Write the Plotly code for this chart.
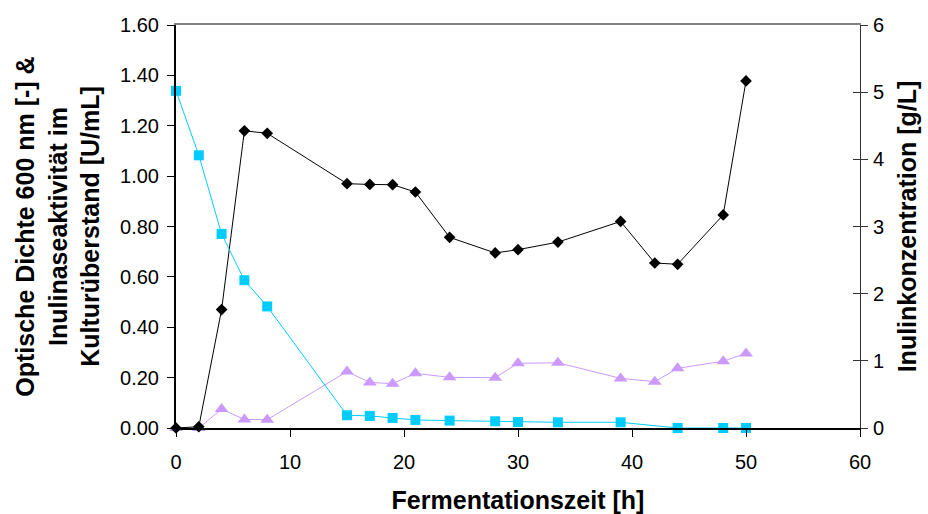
import plotly.graph_objects as go

# Fermentation time [h]
zeit_od = [0, 2, 4, 6, 8, 15, 17, 19, 21, 24, 28, 30, 33.5, 39, 42, 44, 48, 50]
# Optische Dichte 600 nm [-]
od600 = [0.00, 0.005, 0.47, 1.18, 1.17, 0.97, 0.967, 0.966, 0.937, 0.757, 0.695, 0.708,
         0.738, 0.820, 0.655, 0.650, 0.846, 1.378]

# Inulinaseaktivität [U/mL]
zeit_akt = [0, 2, 4, 6, 8, 15, 17, 19, 21, 24, 28, 30, 33.5, 39, 42, 44, 48, 50]
aktivitaet = [0.00, 0.00, 0.075, 0.034, 0.033, 0.224, 0.181, 0.176, 0.217, 0.201, 0.200,
              0.257, 0.259, 0.197, 0.184, 0.237, 0.265, 0.296]

# Inulinkonzentration [g/L]
zeit_inu = [0, 2, 4, 6, 8, 15, 17, 19, 21, 24, 28, 30, 33.5, 39, 44, 48, 50]
inulin = [5.02, 4.06, 2.89, 2.20, 1.81, 0.19, 0.18, 0.15, 0.12, 0.11, 0.10, 0.09, 0.085,
          0.085, 0.0, 0.0, 0.0]

FONT = "Liberation Sans, Arial, sans-serif"

fig = go.Figure()
fig.add_trace(go.Scatter(
    x=zeit_inu, y=inulin, yaxis="y2", mode="lines+markers",
    line=dict(color="#00CCFF", width=1),
    marker=dict(symbol="square", size=10, color="#00CCFF"),
    cliponaxis=False, showlegend=False))
fig.add_trace(go.Scatter(
    x=zeit_akt, y=aktivitaet, mode="lines+markers",
    line=dict(color="#CC99FF", width=1),
    marker=dict(symbol="triangle-up", size=12, color="#CC99FF"),
    cliponaxis=False, showlegend=False))
fig.add_trace(go.Scatter(
    x=zeit_od, y=od600, mode="lines+markers",
    line=dict(color="#000000", width=1),
    marker=dict(symbol="diamond", size=9, color="#000000"),
    cliponaxis=False, showlegend=False))

fig.update_layout(
    width=928, height=514,
    margin=dict(l=176, r=68, t=25, b=86, autoexpand=False),
    paper_bgcolor="white", plot_bgcolor="white",
    font=dict(family=FONT, color="black", size=20),
    xaxis=dict(
        range=[0, 60], dtick=10, tick0=0, showgrid=False, zeroline=False,
        showline=True, linecolor="black", linewidth=2, automargin=False,
        ticks="outside", ticklen=7, tickwidth=1, tickcolor="black",
        tickfont=dict(size=20), ticklabelstandoff=8,
        title=dict(text="<b>Fermentationszeit [h]</b>", font=dict(size=25), standoff=19),
    ),
    xaxis2=dict(
        overlaying="x", side="top", range=[0, 60], showgrid=False, zeroline=False,
        showline=True, linecolor="#808080", linewidth=2, ticks="", showticklabels=False,
        automargin=False,
    ),
    yaxis=dict(
        range=[0, 1.6], dtick=0.2, tick0=0, tickformat=".2f",
        showgrid=False, zeroline=False, automargin=False,
        showline=True, linecolor="black", linewidth=2,
        ticks="outside", ticklen=7, tickwidth=1, tickcolor="black",
        tickfont=dict(size=20), ticklabelstandoff=4,
        title=dict(text="<b>Optische Dichte 600 nm [-] &<br>Inulinaseaktivität im<br>Kulturüberstand [U/mL]</b>",
                   font=dict(size=25), standoff=13),
    ),
    yaxis2=dict(
        overlaying="y", side="right", range=[0, 6], dtick=1, tick0=0,
        showgrid=False, zeroline=False, automargin=False,
        showline=True, linecolor="#333333", linewidth=1,
        ticks="outside", ticklen=7, tickwidth=1, tickcolor="#333333",
        tickfont=dict(size=20), ticklabelstandoff=1,
        title=dict(text="<b>Inulinkonzentration [g/L]</b>", font=dict(size=25), standoff=15),
    ),
    yaxis3=dict(
        overlaying="y", side="right", range=[0, 6], dtick=1, tick0=0,
        showgrid=False, zeroline=False, showline=False, automargin=False,
        ticks="inside", ticklen=7, tickwidth=1, tickcolor="#333333",
        showticklabels=False,
    ),
)
# invisible trace to activate helper axes
fig.add_trace(go.Scatter(x=[None], y=[None], xaxis="x2", yaxis="y3", showlegend=False, hoverinfo="skip"))

fig.write_html("out.html", config={"displayModeBar": False},
               post_script="document.body.style.margin='0';")
